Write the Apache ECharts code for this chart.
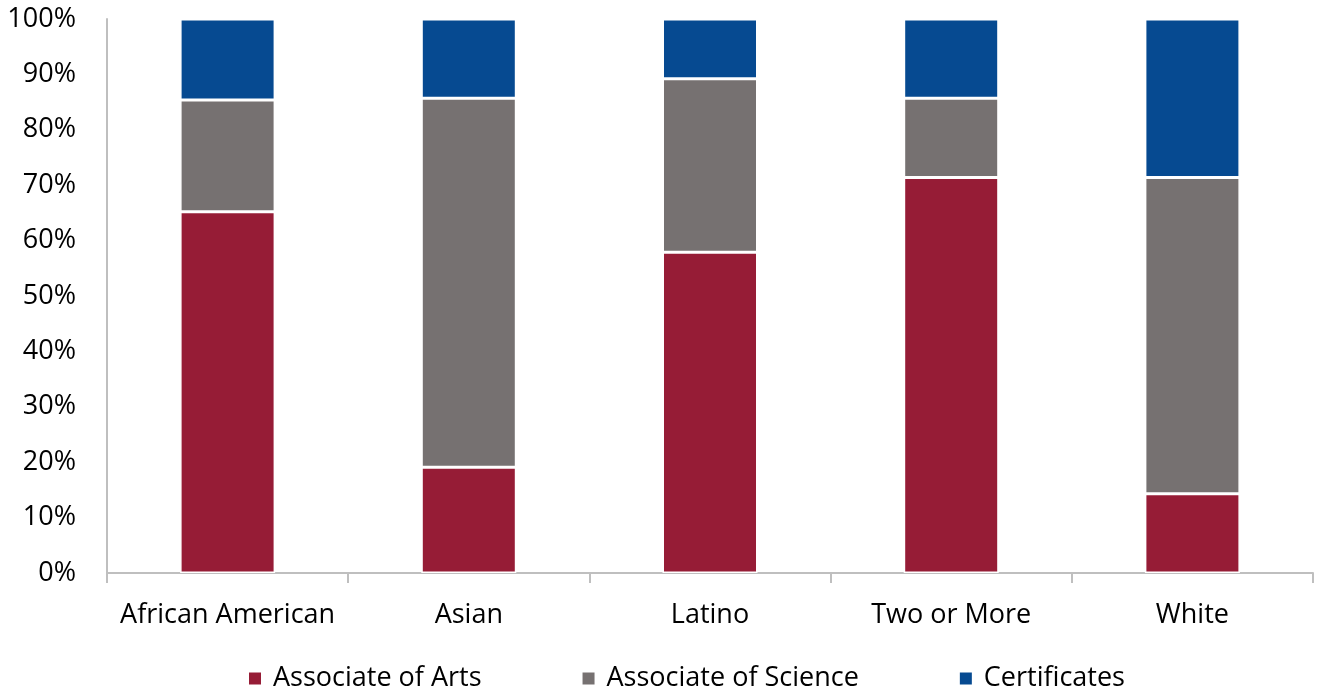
<!DOCTYPE html>
<html><head><meta charset="utf-8">
<script src="https://cdn.jsdelivr.net/npm/echarts@6/dist/echarts.min.js"></script>
<style>html,body{margin:0;padding:0;background:#fff}#c{width:1325px;height:694px}</style>
</head><body><div id="c"></div>
<script>
const categories = ["African American", "Asian", "Latino", "Two or More", "White"];
const associateArts = [65.2, 19.1, 57.9, 71.4, 14.3];
const associateScience = [20.2, 66.6, 31.3, 14.3, 57.1];
const certificates = [14.6, 14.3, 10.8, 14.3, 28.6];
const seriesNames = ["Associate of Arts", "Associate of Science", "Certificates"];
const colors = ["#961C36", "#767171", "#064A91"];

const font = "'Open Sans', sans-serif";
const chart = echarts.init(document.getElementById('c'), null, {renderer: 'canvas'});
const mk = (name, data, color) => ({
  name, type: 'bar', stack: 'total', data, barWidth: 95,
  itemStyle: {color, borderColor: '#fff', borderWidth: 1.5},
  emphasis: {disabled: true}
});
chart.setOption({
  animation: false,
  color: colors,
  grid: {left: 107, right: 12, top: 19, bottom: 121, containLabel: false},
  xAxis: {
    type: 'category', data: categories,
    axisLine: {lineStyle: {color: '#BFBFBF', width: 2}},
    axisTick: {show: true, interval: 0, length: 10, lineStyle: {color: '#BFBFBF', width: 2}},
    axisLabel: {interval: 0, color: '#000', fontFamily: font, fontSize: 27, margin: 29}
  },
  yAxis: {
    type: 'value', min: 0, max: 100, interval: 10,
    axisLine: {show: true, lineStyle: {color: '#BFBFBF', width: 2}},
    axisTick: {show: false},
    splitLine: {show: false},
    axisLabel: {color: '#000', fontFamily: font, fontSize: 27, margin: 31, formatter: v => v + '%'}
  },
  legend: {
    bottom: -3, left: 242, itemWidth: 14, itemHeight: 14, itemGap: 99,
    icon: 'rect',
    textStyle: {color: '#000', fontFamily: font, fontSize: 27, padding: [0, 0, 0, 6]},
    data: seriesNames
  },
  series: [
    mk(seriesNames[0], associateArts, colors[0]),
    mk(seriesNames[1], associateScience, colors[1]),
    mk(seriesNames[2], certificates, colors[2])
  ]
});
</script></body></html>
